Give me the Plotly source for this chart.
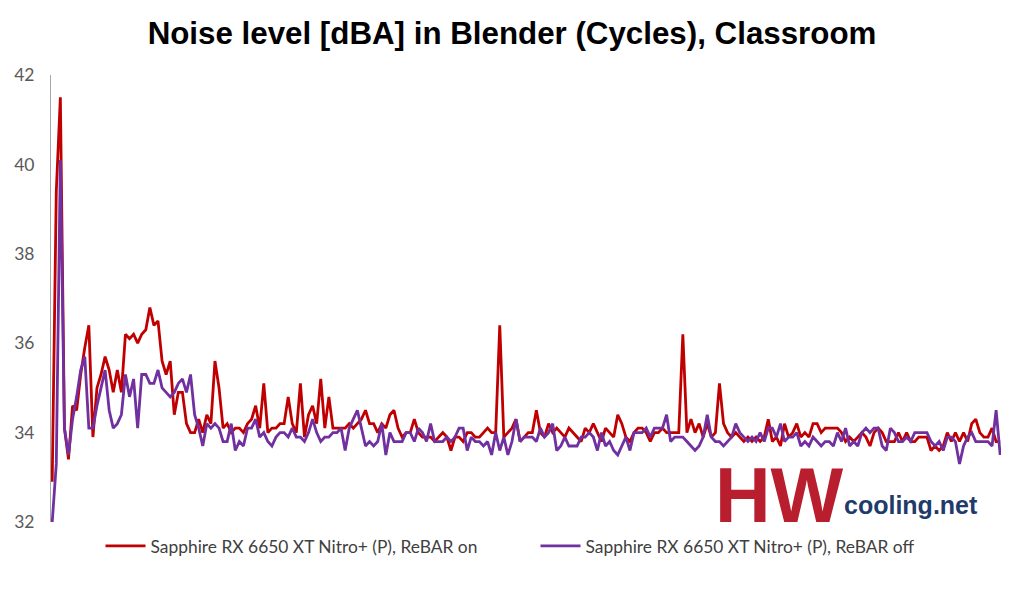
import plotly.graph_objects as go

# noise level samples [dBA]
red = [
    32.9, 39.4, 41.5, 34.1, 33.4, 34.6, 34.5, 35.3, 35.9, 36.4,
    33.9, 35.0, 35.3, 35.7, 35.4, 34.9, 35.4, 34.9, 36.2, 36.1,
    36.2, 36.0, 36.2, 36.3, 36.8, 36.4, 36.5, 35.6, 35.3, 35.6,
    34.4, 34.9, 34.9, 34.2, 34.0, 34.0, 34.3, 34.0, 34.4, 34.2,
    35.6, 35.0, 34.1, 34.2, 34.0, 34.1, 34.1, 34.0, 34.2, 34.3,
    34.6, 34.1, 35.1, 34.0, 34.1, 34.1, 34.2, 34.2, 34.8, 34.2,
    34.0, 35.1, 33.9, 34.4, 34.6, 34.2, 35.2, 34.1, 34.8, 34.1,
    34.1, 34.1, 34.1, 34.2, 34.1, 34.2, 34.3, 34.5, 34.2, 34.2,
    34.0, 34.2, 34.1, 34.4, 34.5, 34.1, 33.9, 34.0, 34.0, 34.3,
    34.0, 33.9, 33.9, 33.9, 33.8, 33.9, 34.0, 33.9, 33.6, 33.9,
    33.9, 33.8, 34.0, 34.0, 33.9, 33.9, 34.0, 34.1, 34.0, 34.0,
    36.4, 33.9, 34.0, 34.1, 34.3, 33.8, 33.9, 34.0, 34.0, 34.5,
    34.0, 33.9, 34.2, 34.0, 34.1, 34.0, 33.9, 34.1, 34.0,
    33.9, 33.8, 34.1, 34.0, 34.2, 34.0, 33.8, 34.1, 34.0, 33.9,
    34.4, 34.2, 33.9, 33.8, 34.0, 34.1, 34.1, 34.0, 33.8, 34.0,
    34.0, 34.1, 34.0, 34.0, 34.0, 34.0, 36.2, 34.0, 34.3, 34.0,
    34.2, 33.9, 34.2, 33.9, 34.0, 35.1, 34.2, 34.0, 33.9, 34.0,
    33.9, 33.8, 33.9, 33.8, 33.9, 33.8, 33.9, 34.3, 33.8, 33.9,
    33.7, 34.2, 33.9, 34.0, 34.2, 33.9, 34.0, 33.9, 34.2,
    34.2, 34.0, 34.1, 34.1, 34.1, 34.1, 34.0, 33.8, 33.9, 33.8,
    33.9, 34.0, 33.9, 33.7, 34.0, 34.1, 34.0, 33.8, 33.8, 33.8,
    34.0, 33.8, 34.0, 33.8, 33.8, 33.9, 33.9, 33.9, 33.6,
    33.7, 33.6, 33.7, 34.0, 33.8, 34.0, 33.8, 34.0, 33.8, 34.2,
    34.3, 34.0, 33.9, 33.9, 34.1, 33.8, 33.8,
]

purple = [
    32.0, 33.3, 40.1, 34.1, 33.5, 34.3, 34.8, 35.4, 35.7, 34.1,
    34.1, 34.6, 35.0, 35.4, 34.5, 34.1, 34.2, 34.4, 35.3, 34.8,
    35.2, 34.1, 35.3, 35.3, 35.1, 35.1, 35.4, 35.0, 34.9, 34.8,
    34.9, 35.1, 35.2, 34.9, 35.3, 34.4, 34.1, 33.7, 34.2, 34.1,
    34.2, 34.1, 33.8, 33.8, 34.2, 33.6, 33.8, 33.7, 34.1, 34.1,
    34.3, 33.9, 34.0, 33.8, 33.7, 33.9, 34.0, 34.0, 33.9, 34.1,
    33.9, 33.9, 33.8, 34.0, 34.3, 34.0, 33.8, 33.9, 33.9, 34.0,
    34.0, 34.1, 33.6, 34.1, 34.3, 34.5, 34.1, 33.7, 33.8, 33.7,
    33.8, 34.2, 33.5, 34.0, 33.8, 33.8, 33.8, 34.0, 34.0, 33.8,
    34.1, 34.0, 33.8, 34.2, 33.8, 33.8, 33.8, 33.9, 33.8, 33.9,
    34.1, 34.1, 33.6, 33.9, 33.8, 33.8, 33.7, 33.8, 33.5, 34.0,
    33.6, 33.9, 33.5, 33.8, 34.3, 33.8, 33.9, 33.9, 33.9, 33.8,
    34.1, 33.9, 34.0, 34.2, 33.6, 33.7, 33.9, 33.7, 33.7,
    33.7, 33.9, 33.9, 34.0, 33.9, 33.6, 34.0, 33.7, 33.8, 33.6,
    33.5, 33.7, 33.9, 33.6, 34.0, 34.0, 34.0, 34.1, 33.9, 34.1,
    34.1, 34.1, 34.4, 33.8, 33.9, 33.9, 33.9, 33.8, 33.7, 33.6,
    33.7, 33.9, 34.4, 33.9, 33.8, 33.8, 33.7, 33.8, 33.9, 34.2,
    34.0, 33.9, 33.8, 33.9, 33.8, 34.0, 33.8, 34.1, 34.1, 33.9,
    34.2, 33.8, 33.9, 33.9, 34.0, 33.7, 33.8, 33.7, 33.9,
    33.8, 33.7, 33.8, 33.8, 33.7, 34.0, 33.8, 34.1, 33.7, 33.8,
    33.7, 34.0, 34.1, 34.0, 34.1, 34.1, 33.7, 33.6, 34.1, 34.0,
    33.8, 33.8, 33.9, 33.8, 34.0, 34.0, 34.0, 34.0, 33.8,
    33.7, 33.8, 33.6, 33.9, 33.9, 33.8, 33.3, 33.7, 33.9, 34.0,
    33.8, 33.8, 33.8, 33.8, 33.7, 34.5, 33.5,
]

names = ["Sapphire RX 6650 XT Nitro+ (P), ReBAR on",
         "Sapphire RX 6650 XT Nitro+ (P), ReBAR off"]
colors = ["#C00000", "#7030A0"]
yticks = [32, 34, 36, 38, 40, 42]

x = list(range(len(red)))

fig = go.Figure()
for ys, name, col in zip([red, purple], names, colors):
    fig.add_trace(go.Scatter(x=x, y=ys, mode="lines", name=name,
                             line=dict(color=col, width=2.8)))

# page adds an 8px body margin, so the plot box is shifted up/left by 8
fig.update_layout(
    width=1024, height=591,
    margin=dict(l=43, r=31, t=67, b=77, autoexpand=False),
    paper_bgcolor="white", plot_bgcolor="white",
    title=dict(text="<b>Noise level [dBA] in Blender (Cycles), Classroom</b>",
               x=504 / 1024, xanchor="center", y=1 - 25 / 591, yanchor="middle",
               font=dict(family="Liberation Sans, Arial, sans-serif", size=31.3, color="black")),
    legend=dict(orientation="h", x=0.510, xanchor="center", y=-0.054, yanchor="middle",
                font=dict(family="Lato, Noto Sans, sans-serif", size=17.4, color="#404040"),
                itemwidth=40, entrywidth=380, entrywidthmode="pixels"),
    showlegend=True,
)
fig.update_xaxes(range=[-0.3, len(red) - 0.8], visible=False, showgrid=False)
fig.update_yaxes(range=[32, 42], tickvals=yticks, showgrid=False, zeroline=False,
                 automargin=False,
                 showline=True, linecolor="#A6A6A6", linewidth=1,
                 ticks="", ticklabelstandoff=12,
                 tickfont=dict(family="Lato, Noto Sans, sans-serif", size=17.5, color="#595959"))

# watermark logo, approximated with text
fig.add_annotation(text="<b>HW</b>", xref="paper", yref="paper",
                   x=0.697, y=-0.040, xanchor="left", yanchor="bottom",
                   showarrow=False,
                   font=dict(family="Liberation Sans, Arial, sans-serif",
                             size=77, color="#B81E2D"))
fig.add_annotation(text="<b>cooling.net</b>", xref="paper", yref="paper",
                   x=0.833, y=0.003, xanchor="left", yanchor="bottom",
                   showarrow=False,
                   font=dict(family="Liberation Sans, Arial, sans-serif",
                             size=25, color="#1F3B6B"))

fig.write_html("out.html")
